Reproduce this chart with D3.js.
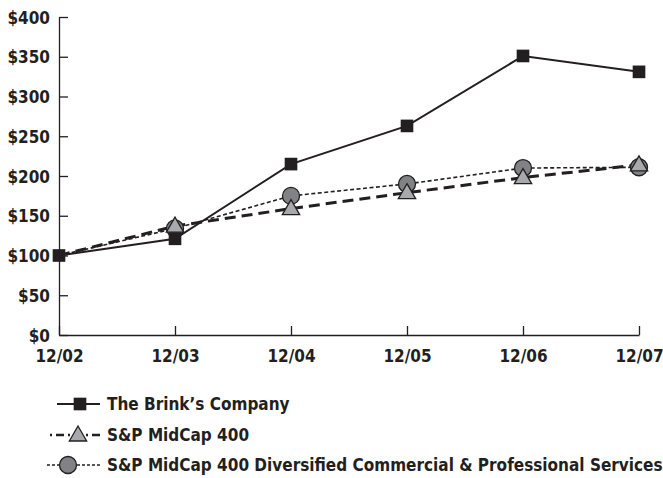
<!DOCTYPE html>
<html lang="en">
<head>
<meta charset="UTF-8">
<title>Cumulative Total Return</title>
<script src="https://cdnjs.cloudflare.com/ajax/libs/d3/7.8.5/d3.min.js"></script>
<style>
  body { margin: 0; background: #fff; }
  svg text { font-family: "Liberation Sans Narrow", "DejaVu Sans Condensed", "Liberation Sans", sans-serif; font-weight: bold; fill: #231f20; }
</style>
</head>
<body>
<svg width="663" height="478"></svg>
<script>
  // values
  const periods = ["12/02", "12/03", "12/04", "12/05", "12/06", "12/07"];
  const brinks = [100, 121, 215, 263, 351, 331];
  const midcap = [100, 137, 159, 179, 198, 214];
  const diversified = [100, 134, 175, 190, 210, 211];
  const yTicks = [0, 50, 100, 150, 200, 250, 300, 350, 400];

  const seriesNames = [
    "The Brink\u2019s Company",
    "S&P MidCap 400",
    "S&P MidCap 400 Diversified Commercial & Professional Services"
  ];

  const ink = "#231f20";
  const svg = d3.select("svg");

  const x = d3.scalePoint().domain(periods).range([59, 639]);
  const y = d3.scaleLinear().domain([0, 400]).range([335, 17]);

  // axes, ticks pointing into the plot
  const yAxis = svg.append("g")
      .attr("transform", "translate(59,0)")
      .call(d3.axisLeft(y).tickValues(yTicks).tickSize(-9).tickPadding(9).tickFormat(d => "$" + d).tickSizeOuter(0));
  yAxis.selectAll("text").attr("font-size", 17).attr("dy", "0.36em");

  const xAxis = svg.append("g")
      .attr("transform", "translate(0,335)")
      .call(d3.axisBottom(x).tickSize(-9).tickPadding(17).tickSizeOuter(0));
  xAxis.selectAll("text").attr("font-size", 17).attr("dy", "0.6em");

  svg.selectAll(".domain, .tick line").attr("stroke", ink).attr("stroke-width", 1.3);

  const line = d3.line().x((d, i) => x(periods[i])).y(d => y(d));

  // diversified: thin short dashes
  svg.append("path").datum(diversified)
      .attr("d", line).attr("fill", "none")
      .attr("stroke", ink).attr("stroke-width", 1.6).attr("stroke-dasharray", "4,2.5");

  // midcap: thick long dashes
  svg.append("path").datum(midcap)
      .attr("d", line).attr("fill", "none")
      .attr("stroke", ink).attr("stroke-width", 3).attr("stroke-dasharray", "11,6");

  // brink's: solid
  svg.append("path").datum(brinks)
      .attr("d", line).attr("fill", "none")
      .attr("stroke", ink).attr("stroke-width", 2);

  const square = d3.symbol().type(d3.symbolSquare).size(160);
  const triangle = d3.symbol().type(d3.symbolTriangle).size(130);

  // pair each value with its period; the indexes hide their first marker under the square
  const points = data => data.map((v, i) => ({ p: periods[i], v })).slice(1);

  svg.append("g").selectAll(null).data(points(diversified)).join("circle")
      .attr("cx", d => x(d.p)).attr("cy", d => y(d.v))
      .attr("r", 8.5).attr("fill", "#808285").attr("stroke", ink).attr("stroke-width", 1.3);

  svg.append("g").selectAll(null).data(points(midcap)).join("path")
      .attr("d", triangle)
      .attr("transform", d => `translate(${x(d.p)},${y(d.v) + 1})`)
      .attr("fill", "#a7a9ac").attr("stroke", ink).attr("stroke-width", 1.3);

  svg.append("g").selectAll(null).data(brinks).join("path")
      .attr("d", square)
      .attr("transform", (d, i) => `translate(${x(periods[i])},${y(d)})`)
      .attr("fill", ink);

  // legend
  const legend = svg.append("g");
  const rowY = [404, 435, 465];

  legend.append("line").attr("x1", 57).attr("x2", 100).attr("y1", rowY[0]).attr("y2", rowY[0])
      .attr("stroke", ink).attr("stroke-width", 2);
  legend.append("path").attr("d", square).attr("transform", `translate(80,${rowY[0]})`).attr("fill", ink);

  legend.append("line").attr("x1", 50).attr("x2", 100).attr("y1", rowY[1]).attr("y2", rowY[1])
      .attr("stroke", ink).attr("stroke-width", 2.4).attr("stroke-dasharray", "2,4,8,4");
  legend.append("path").attr("d", triangle).attr("transform", `translate(78,${rowY[1] + 1})`)
      .attr("fill", "#a7a9ac").attr("stroke", ink).attr("stroke-width", 1.3);

  legend.append("line").attr("x1", 47).attr("x2", 100).attr("y1", rowY[2]).attr("y2", rowY[2])
      .attr("stroke", ink).attr("stroke-width", 1.6).attr("stroke-dasharray", "3,2");
  legend.append("circle").attr("cx", 68).attr("cy", rowY[2]).attr("r", 8.5)
      .attr("fill", "#808285").attr("stroke", ink).attr("stroke-width", 1.3);

  legend.selectAll("text").data(seriesNames).join("text")
      .attr("x", 107).attr("y", (d, i) => rowY[i]).attr("dy", "0.36em")
      .attr("font-size", 17).text(d => d);
</script>
</body>
</html>
